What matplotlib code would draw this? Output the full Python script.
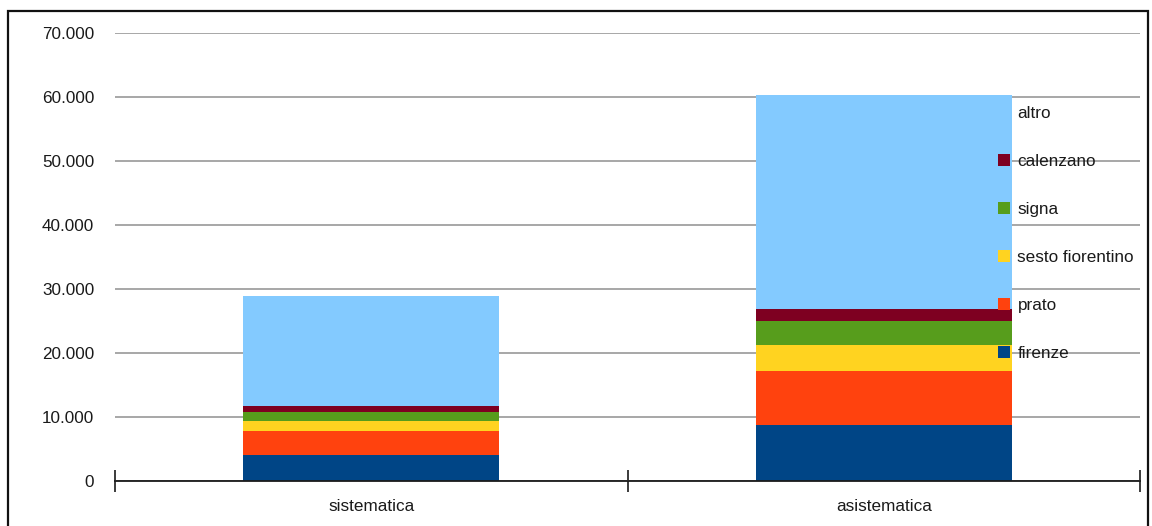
import numpy as np
import matplotlib.pyplot as plt
from matplotlib.patches import Rectangle

plt.rcParams['font.family'] = ['Liberation Sans', 'DejaVu Sans']

categories = ['sistematica', 'asistematica']
series = ['firenze', 'prato', 'sesto fiorentino', 'signa', 'calenzano', 'altro']
firenze = [4100, 8750]
prato = [3700, 8480]
sesto = [1550, 4020]
signa = [1400, 3800]
calenzano = [950, 1830]
altro = [17230, 33430]
colors = ['#004586', '#ff420e', '#ffd320', '#579d1c', '#7e0021', '#83caff']

W, H = 1152, 526
fig = plt.figure(figsize=(W / 100, H / 100), dpi=100)
ax = fig.add_axes([115 / W, 45 / H, (1140 - 115) / W, (481 - 33) / H])

# outer frame (bottom edge is cut off in the original)
fig.patches.append(Rectangle((7.5 / W, -0.1), (1147.5 - 7.5) / W, 1.1 - 10.5 / H,
                             transform=fig.transFigure, fill=False,
                             edgecolor='#111111', linewidth=1.6))

x = np.arange(len(categories))
bottom = np.zeros(len(categories))
handles = []
for name, vals, c in zip(series, [firenze, prato, sesto, signa, calenzano, altro], colors):
    b = ax.bar(x, vals, width=0.5, bottom=bottom, color=c, label=name, zorder=2)
    handles.append(b)
    bottom += np.array(vals)

ax.set_xlim(-0.5, 1.5)
ax.set_ylim(0, 70000)
ax.set_yticks(np.arange(0, 70001, 10000))
ax.set_yticklabels(['0' if v == 0 else f'{v // 1000}.000' for v in range(0, 70001, 10000)])
ax.yaxis.grid(True, color='#a0a0a0', linewidth=1.3, zorder=0)
ax.set_axisbelow(True)
ax.tick_params(axis='y', length=0, pad=15, labelsize=12.3, labelcolor='#1a1a1a')

ax.set_xticks(x)
ax.set_xticklabels(categories)
ax.set_xticks([-0.5, 0.5, 1.5], minor=True)
ax.tick_params(axis='x', which='major', length=0, pad=13, labelsize=12.3, labelcolor='#1a1a1a')
ax.tick_params(axis='x', which='minor', length=16, direction='inout', width=1.2, color='#1a1a1a')

for s in ['left', 'right', 'top']:
    ax.spines[s].set_visible(False)
ax.spines['bottom'].set_color('#1a1a1a')
ax.spines['bottom'].set_linewidth(1.3)

leg = fig.legend(handles[::-1], series[::-1], loc='upper left',
                 bbox_to_anchor=(998 / W, 1 - 106 / H), frameon=False,
                 fontsize=12.3, labelspacing=1.93, handlelength=0.72, handleheight=0.72,
                 handletextpad=0.42, borderpad=0, borderaxespad=0)
for t in leg.get_texts():
    t.set_color('#1a1a1a')

fig.savefig('out.png', dpi=100)
